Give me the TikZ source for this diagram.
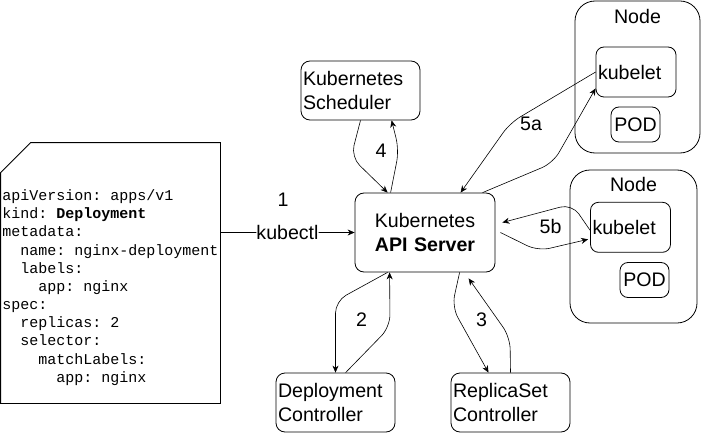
\documentclass[tikz,border=0pt]{standalone}
\usepackage{fontspec}
\setmainfont{Liberation Sans}
\setmonofont{Liberation Mono}
\usetikzlibrary{arrows.meta}
\usetikzlibrary{calc}
\usetikzlibrary{positioning}
\newcommand{\bigsans}{\fontsize{19.6}{24}\selectfont}
\newcommand{\yamlfont}{\ttfamily\fontsize{15}{18.17}\selectfont}
\newcommand{\yind}{\hspace*{1.2em}}

\begin{document}
\begin{tikzpicture}[x=1pt,y=-1pt,line width=0.8pt,font=\bigsans,
    box/.style={draw,rounded corners=9pt,minimum height=59pt,text width=115pt,inner xsep=2pt,inner ysep=0pt,align=left},
    hostbox/.style={draw,rounded corners=20pt,minimum width=#1,inner sep=0pt},
    smallbox/.style={draw,rounded corners=8pt,inner sep=0pt},
    conn/.style={-{Stealth[length=7pt,width=6pt]},line width=0.6pt,rounded corners=12pt}]
    \useasboundingbox (0,0) rectangle (701,433);

    % yaml file
    \node[minimum width=219pt,minimum height=260pt,inner sep=0pt] (doc) at (110.5,273) {};
    \draw (doc.south west) -- ($(doc.north west)+(0,30)$) -- ($(doc.north west)+(30,0)$) -- (doc.north east) -- (doc.south east) -- cycle;
    \node[anchor=west,align=left,inner sep=0pt,font=\yamlfont] (yaml) at (2,287.5) {apiVersion: apps/v1\\
        kind: \textbf{Deployment}\\
        metadata:\\
        \yind name: nginx-deployment\\
        \yind labels:\\
        \yind\yind app: nginx\\
        spec:\\
        \yind replicas: 2\\
        \yind selector:\\
        \yind\yind matchLabels:\\
        \yind\yind\yind app: nginx};

    % control plane
    \node[box] (sched) at (360.5,90.5) {Kubernetes\\Scheduler};
    \node[box,align=center,text width=136pt,minimum height=79pt] (api) at (425,232.5) {Kubernetes\\\textbf{API Server}};
    \node[box] (dep) at (335.5,402.5) {Deployment\\Controller};
    \node[box] (rs) at (510.5,402.5) {ReplicaSet\\Controller};

    % worker nodes
    \node[hostbox=125pt,minimum height=152pt] (node1) at (637.5,77) {};
    \node at ([yshift=-15.5pt]node1.north) (node1lbl) {Node};
    \node[smallbox,text width=76pt,inner xsep=2pt,minimum height=50pt,align=left] (kub1) at (636,72) {kubelet};
    \node[smallbox,minimum width=49pt,minimum height=35pt] (pod1) at (635.5,124.5) {POD};

    \node[hostbox=127pt,minimum height=153pt] (node2) at (633.5,246.5) {};
    \node at ([yshift=-15pt]node2.north) (node2lbl) {Node};
    \node[smallbox,text width=76pt,inner xsep=2pt,minimum height=50pt,align=left] (kub2) at (630.5,227.3) {kubelet};
    \node[smallbox,minimum width=49pt,minimum height=35pt] (pod2) at (644.5,280) {POD};

    % 1
    \draw[conn] (doc.east |- api.west) -- node[fill=white,inner sep=0pt] (kubectl) {kubectl} (api.west);
    \node (lbl1) at (283,200) {1};
    % 4
    \draw[conn] (sched.south) -- (351,157) -- ($(api.north west)+(33,0)$);
    \draw[conn] ($(api.north west)+(36,0)$) -- (399,150) -- ($(sched.south west)+(91,0)$);
    \node (lbl4) at (381,151) {4};
    % 5a
    \draw[conn] (kub1.west) -- (510,123) -- ($(api.north west)+(106,0)$);
    \draw[conn] ($(api.north west)+(128,0)$) -- (553,163) -- ($(kub1.south west)+(0,-9)$);
    \node (lbl5a) at (531,124) {5a};
    % 5b
    \draw[conn] ($(kub2.west)+(0,3)$) -- (572,204) -- ($(api.east)+(7,-10)$);
    \draw[conn] ($(api.east)+(5,0)$) -- (538,251) -- ($(kub2.west)+(-2,12)$);
    \node (lbl5b) at (550.5,226.5) {5b};
    % 2
    \draw[conn] ($(api.south west)+(33,0)$) -- (335.5,301) -- (dep.north);
    \draw[conn] ($(dep.north west)+(70,0)$) -- (390,327) -- ($(api.south west)+(35,0)$);
    \node (lbl2) at (361.5,320) {2};
    % 3
    \draw[conn] ($(api.south west)+(105,0)$) -- (452,307) -- ($(rs.north)+(-22,0)$);
    \draw[conn] (rs.north) -- (510,337) -- ($(api.south west)+(114,6)$);
    \node (lbl3) at (481.5,320) {3};
\end{tikzpicture}
\end{document}
